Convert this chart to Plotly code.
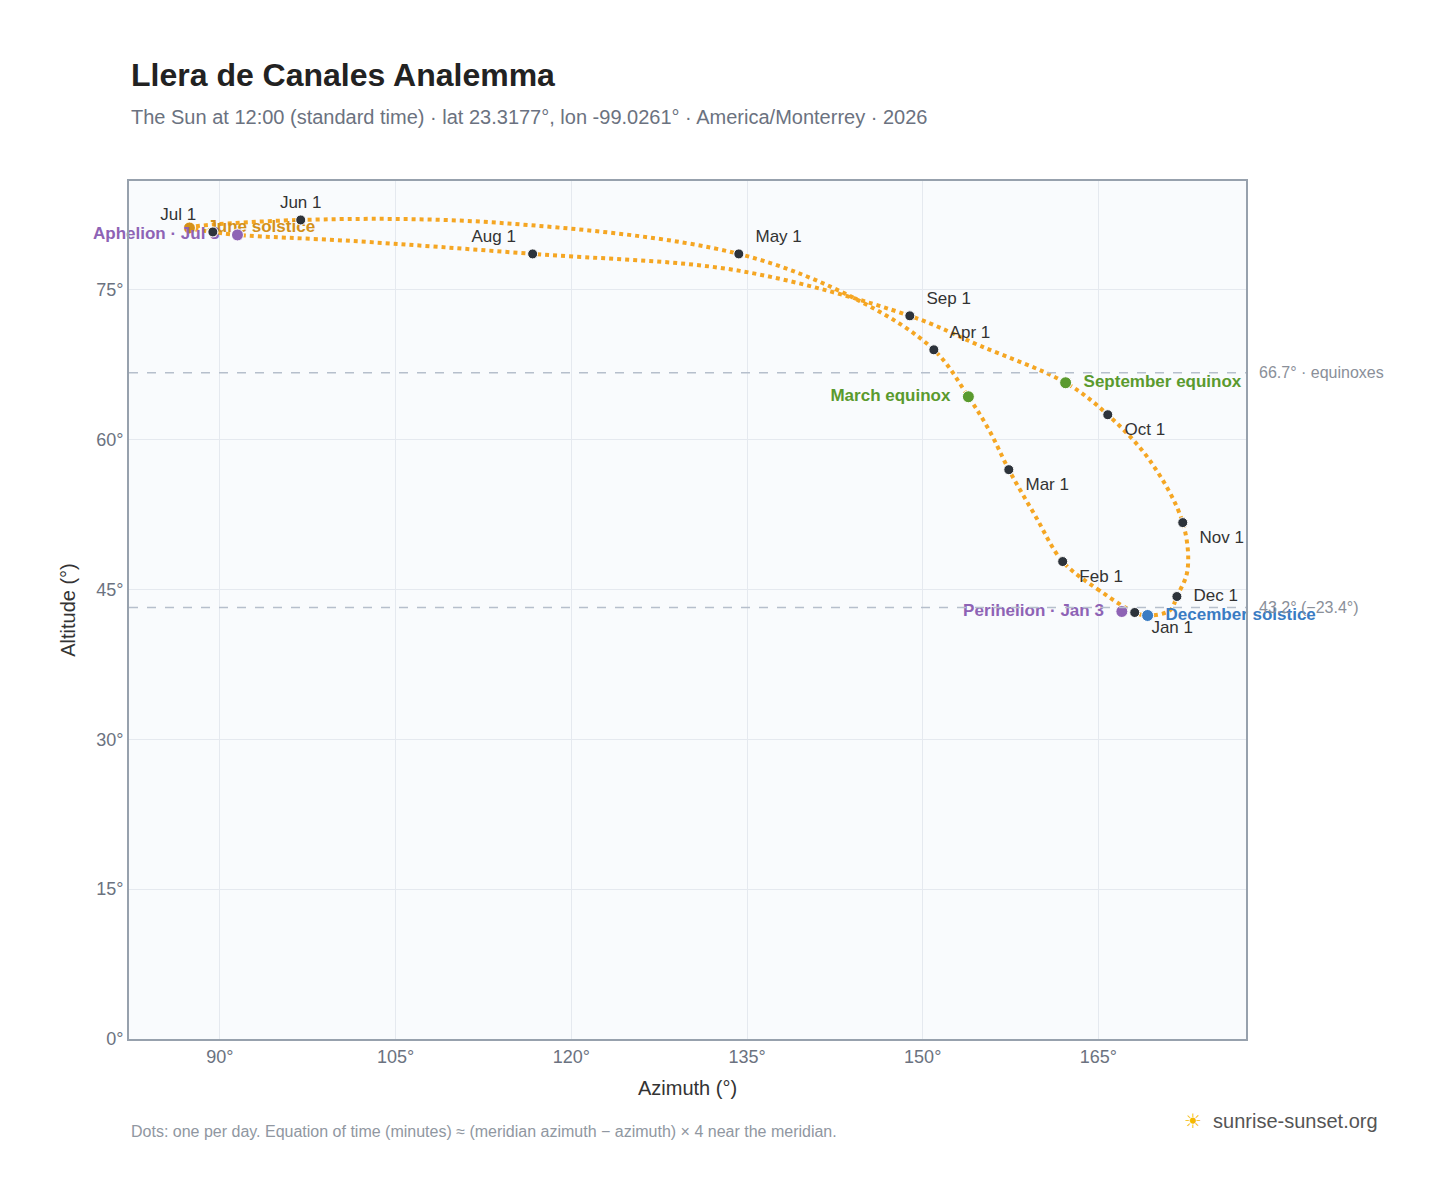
import plotly.graph_objects as go

# path anchors (azimuth °, altitude °), chronological
path_az = [168.1,165.1,161.95,159.6,157.35,155.7,153.9,150.95,144.6,134.3,114.0,96.9,87.4,89.4,91.5,101.2,116.7,134.4,148.9,154.9,162.2,165.8,169.4,172.2,172.6,171.7,171.1,169.2,168.1]
path_alt = [42.7,44.9,47.8,52.4,57.0,60.9,64.3,69.0,73.9,78.6,81.7,82.0,81.2,80.8,80.5,79.9,78.6,76.9,72.4,69.4,65.7,62.5,57.9,51.7,46.9,44.3,42.9,42.4,42.7]

month_labels = ["Jan 1","Feb 1","Mar 1","Apr 1","May 1","Jun 1","Jul 1","Aug 1","Sep 1","Oct 1","Nov 1","Dec 1"]
month_az = [168.1,161.95,157.35,150.95,134.3,96.9,89.4,116.7,148.9,165.8,172.2,171.7]
month_alt = [42.7,47.8,57.0,69.0,78.6,82.0,80.8,78.6,72.4,62.5,51.7,44.3]
month_pos = ["bottom right","bottom right","bottom right","top right","top right","top center","top left","top left","top right","bottom right","bottom right","middle right"]

events = ["March equinox","June solstice","September equinox","December solstice","Perihelion · Jan 3","Aphelion · Jul 3"]
event_az = [153.9,87.4,162.2,169.2,167.0,91.5]
event_alt = [64.3,81.2,65.7,42.4,42.8,80.5]
event_col = ["#5a9a2e","#d4911a","#5a9a2e","#3a7cc3","#8e63b5","#8e63b5"]
event_pos = ["middle left","middle right","middle right","middle right","middle left","middle left"]

xticks = [90,105,120,135,150,165]
yticks = [0,15,30,45,60,75]

fig = go.Figure()
fig.add_trace(go.Scatter(x=path_az, y=path_alt, mode="lines", cliponaxis=False,
    line=dict(color="#f5a623", width=4, dash="dot", shape="spline", smoothing=1.0), hoverinfo="skip"))
for i in range(len(events)):
    fig.add_trace(go.Scatter(x=[event_az[i]], y=[event_alt[i]], mode="markers+text", cliponaxis=False,
        marker=dict(color=event_col[i], size=12, line=dict(color="white", width=1)),
        text=["  " + events[i] + "  "], textposition=event_pos[i],
        textfont=dict(color=event_col[i], size=17, family="Liberation Sans, Arial", weight="bold")))
fig.add_trace(go.Scatter(x=month_az, y=month_alt, mode="markers+text", cliponaxis=False,
    marker=dict(color="#2d333b", size=10, line=dict(color="white", width=1)),
    text=["  " + t + "  " for t in month_labels], textposition=month_pos,
    textfont=dict(color="#333", size=17, family="Liberation Sans, Arial")))

for yv, lab in [(66.7, "66.7° · equinoxes"), (43.2, "43.2° (−23.4°)")]:
    fig.add_hline(y=yv, line=dict(color="#b6bfcc", width=1.5, dash="dash"))
    fig.add_annotation(x=1.01, xref="paper", y=yv, text=lab, showarrow=False, xanchor="left",
                       font=dict(color="#8a8f99", size=16))

fig.add_annotation(x=0, xref="paper", y=1.1, yref="paper", text="<b>Llera de Canales Analemma</b>",
    showarrow=False, xanchor="left", yanchor="bottom", font=dict(size=32, color="#222"))
fig.add_annotation(x=0, xref="paper", y=1.06, yref="paper",
    text="The Sun at 12:00 (standard time) · lat 23.3177°, lon -99.0261° · America/Monterrey · 2026",
    showarrow=False, xanchor="left", yanchor="bottom", font=dict(size=20, color="#6b7280"))
fig.add_annotation(x=0, xref="paper", y=-0.095, yref="paper",
    text="Dots: one per day. Equation of time (minutes) ≈ (meridian azimuth − azimuth) × 4 near the meridian.",
    showarrow=False, xanchor="left", yanchor="top", font=dict(size=16, color="#9097a1"))
fig.add_annotation(x=1.12, xref="paper", y=-0.08, yref="paper", text="<span style='color:#f5b800'>☀</span>  sunrise-sunset.org",
    showarrow=False, xanchor="right", yanchor="top", font=dict(size=20, color="#555"))

fig.update_layout(width=1448, height=1188, showlegend=False, paper_bgcolor="white", plot_bgcolor="#f9fbfd",
    margin=dict(l=121, r=210, t=173, b=157, autoexpand=False), font=dict(family="Liberation Sans, Arial"))
fig.update_xaxes(range=[82.24, 177.6], tickvals=xticks, ticktext=[f"{v}°" for v in xticks], automargin=False,
    title=dict(text="Azimuth (°)", font=dict(size=20, color="#333")), tickfont=dict(size=18, color="#6b7280"),
    gridcolor="#e5e9ef", showline=True, linecolor="#97a1ad", mirror=True, linewidth=2, zeroline=False)
fig.update_yaxes(range=[0, 85.9], tickvals=yticks, ticktext=[f"{v}°" for v in yticks], automargin=False,
    title=dict(text="Altitude (°)", font=dict(size=20, color="#333")), tickfont=dict(size=18, color="#6b7280"),
    gridcolor="#e5e9ef", showline=True, linecolor="#97a1ad", mirror=True, linewidth=2, zeroline=False)
fig.write_html("out.html")
